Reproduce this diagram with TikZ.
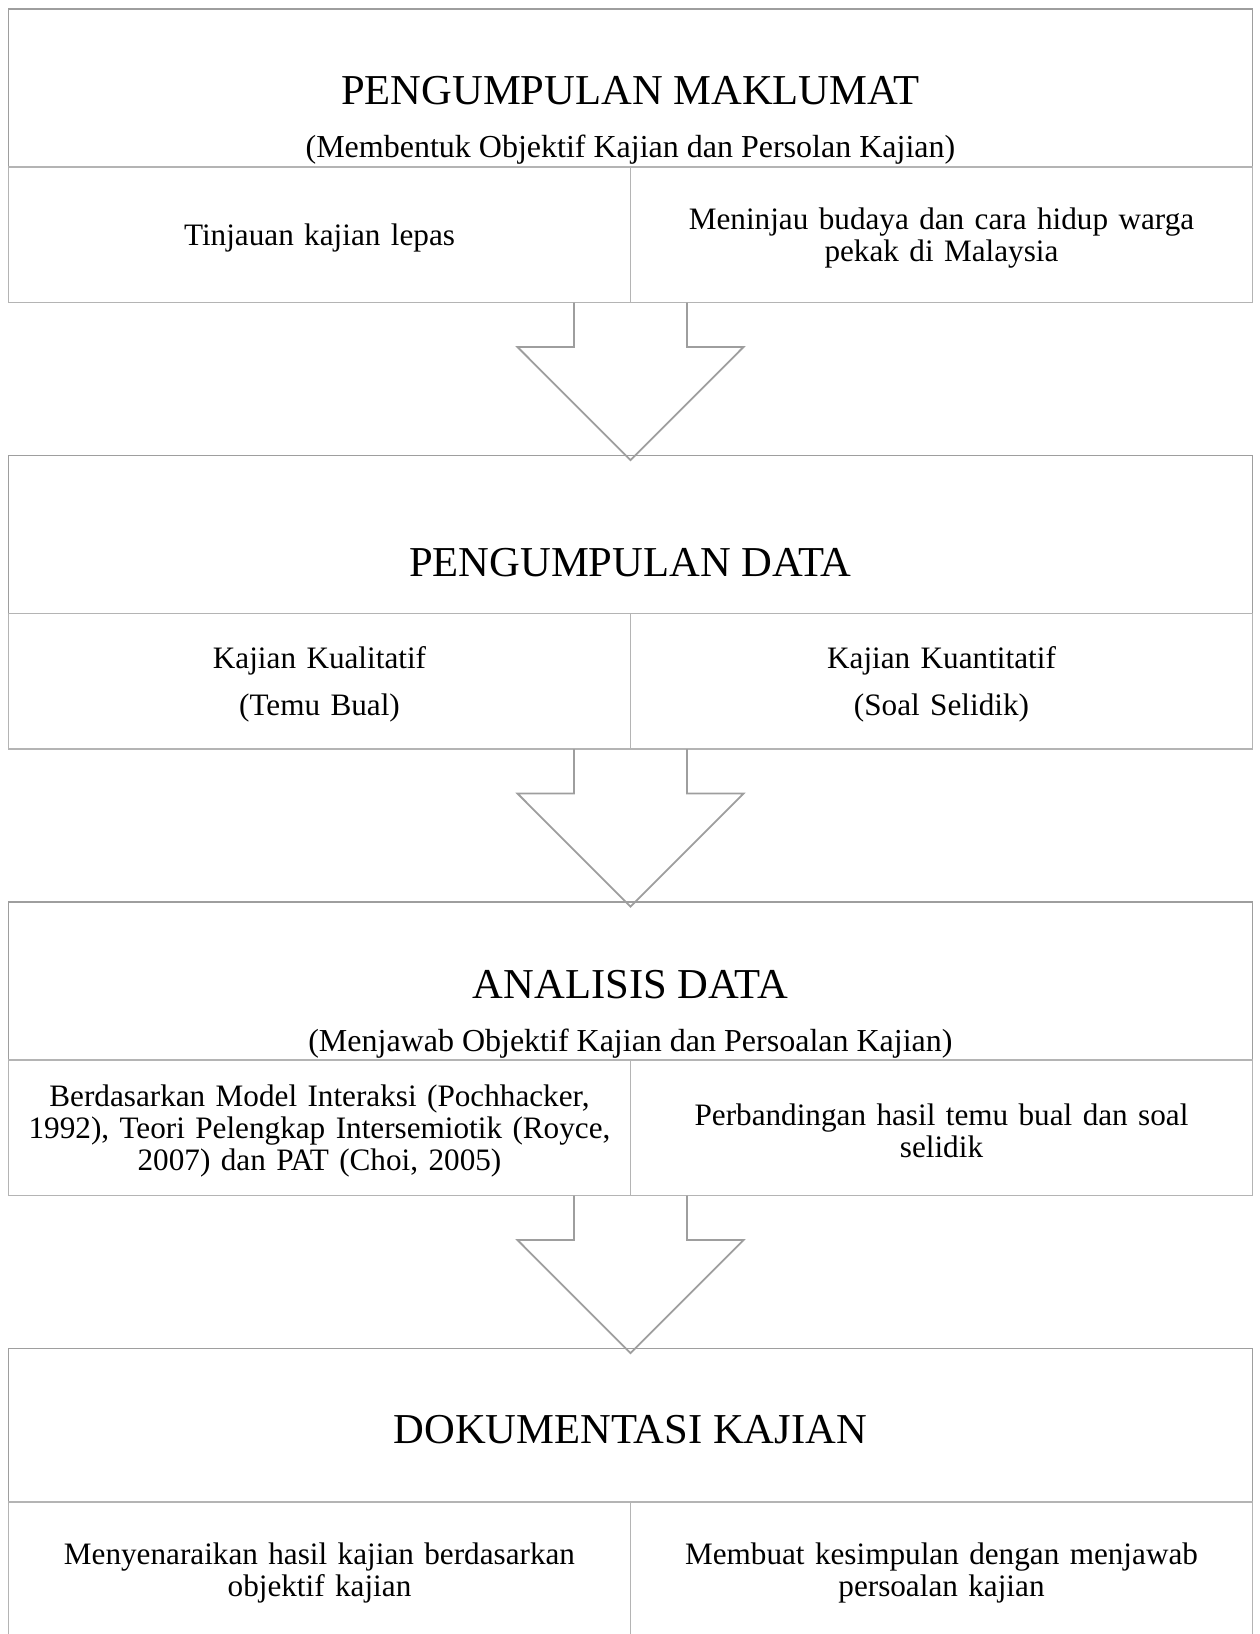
\documentclass[tikz,border=0pt]{standalone}
\usepackage{fontspec}
\setmainfont{Liberation Serif}
\usetikzlibrary{positioning, calc}
\definecolor{garis}{HTML}{9E9E9E}
\definecolor{garismuda}{HTML}{B4B4B4}
\newcommand{\isi}{\fontsize{15.6}{15.8}\selectfont}
\newcommand{\kecil}{\fontsize{16}{18}\selectfont}
\newcommand{\besar}{\fontsize{21.3}{24}\selectfont}
\tikzstyle{judul} = [rectangle, draw=garis, line width=0.9pt, inner sep=0pt, outer sep=0pt, minimum width=622pt, minimum height=79pt]
\tikzstyle{sel} = [rectangle, draw=garismuda, line width=0.9pt, inner sep=0pt, outer sep=0pt, minimum width=311pt, minimum height=67.75pt, text width=300pt, align=center, font=\isi, execute at begin node={\rule{0pt}{14pt}}]
\tikzstyle{tajuk} = [font=\besar, inner sep=0pt]
\tikzstyle{sub} = [font=\kecil, inner sep=0pt]
\tikzstyle{panah} = [draw=garis, line width=0.9pt, line join=miter]
% block arrow from the lower cells of one box to the title of the next
\newcommand{\panahblok}[2]{%
  \draw[panah] ($(#1.south east)+(-56.5,0)$) -- ($(#1.south east)+(-56.5,44.5)$)
    -- ($(#1.south east)+(-113,44.5)$) -- ($(#2.north)+(0,4.7)$)
    -- ($(#1.south east)+(113,44.5)$) -- ($(#1.south east)+(56.5,44.5)$)
    -- ($(#1.south east)+(56.5,0)$);}

\begin{document}
\begin{tikzpicture}[x=0.5pt, y=-0.5pt]
  \useasboundingbox (0,0) rectangle (1259,1634);

  % pengumpulan maklumat
  \node (info) [judul, anchor=north west] at (8.5,9) {};
  \node (infoL) [sel, below right=0pt and 0pt of info.south west] {Tinjauan kajian lepas};
  \node (infoR) [sel, right=0pt of infoL] {Meninjau budaya dan cara hidup warga\\ pekak di Malaysia};
  \node (infoT) [tajuk] at (630.4,90.7) {PENGUMPULAN MAKLUMAT};
  \node (infoS) [sub] at (630.4,150) {(Membentuk Objektif Kajian dan Persolan Kajian)};

  % pengumpulan data
  \node (data) [judul, below right=76.5pt and 0pt of infoL.south west] {};
  \node (dataL) [sel, below right=0pt and 0pt of data.south west] {Kajian Kualitatif\\[7.7pt](Temu Bual)};
  \node (dataR) [sel, right=0pt of dataL] {Kajian Kuantitatif\\[7.7pt](Soal Selidik)};
  \node (dataT) [tajuk] at (630.4,563) {PENGUMPULAN DATA};

  % analisis data
  \node (analisis) [judul, below right=76.5pt and 0pt of dataL.south west] {};
  \node (analisisL) [sel, below right=0pt and 0pt of analisis.south west] {Berdasarkan Model Interaksi (Pochhacker,\\ 1992), Teori Pelengkap Intersemiotik (Royce,\\ 2007) dan PAT (Choi, 2005)};
  \node (analisisR) [sel, right=0pt of analisisL] {Perbandingan hasil temu bual dan soal\\ selidik};
  \node (analisisT) [tajuk] at (630.4,985) {ANALISIS DATA};
  \node (analisisS) [sub] at (630.4,1044) {(Menjawab Objektif Kajian dan Persoalan Kajian)};

  % dokumentasi
  \node (dok) [judul, minimum height=76.65pt, below right=76.5pt and 0pt of analisisL.south west] {};
  \node (dokL) [sel, below right=0pt and 0pt of dok.south west] {Menyenaraikan hasil kajian berdasarkan\\ objektif kajian};
  \node (dokR) [sel, right=0pt of dokL] {Membuat kesimpulan dengan menjawab\\ persoalan kajian};
  \node (dokT) [tajuk] at (630.4,1430) {DOKUMENTASI KAJIAN};

  \panahblok{infoL}{data}
  \panahblok{dataL}{analisis}
  \panahblok{analisisL}{dok}

\end{tikzpicture}
\end{document}
